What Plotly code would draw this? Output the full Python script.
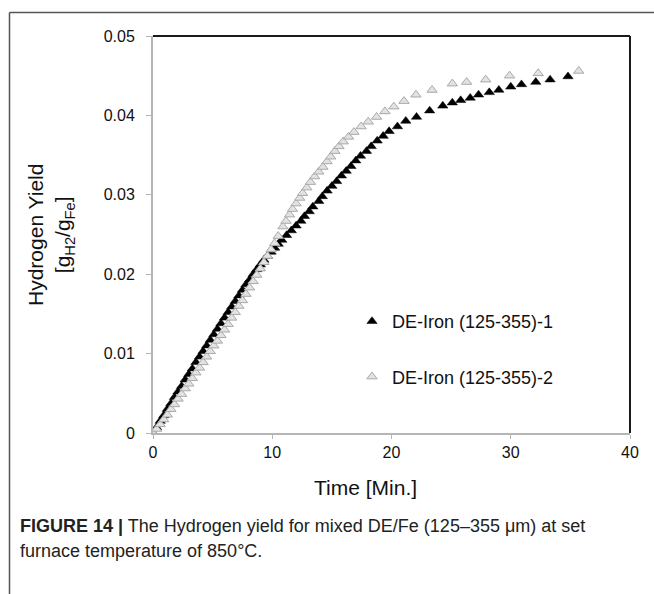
import plotly.graph_objects as go

# ---- data ----
t_run1 = [0, 0.3, 0.6, 0.9, 1.2, 1.5, 1.8, 2.1, 2.4, 2.7, 3.0, 3.3, 3.6, 3.9, 4.2, 4.5, 4.8,
          5.1, 5.4, 5.7, 6.0, 6.3, 6.6, 6.9, 7.2, 7.5, 7.8, 8.1, 8.4, 8.7, 9.0, 9.3, 9.6,
          9.9, 10.2, 10.5, 10.8, 11.2, 11.6, 12.0, 12.4, 12.7, 13.1, 13.4, 13.9, 14.2, 14.6,
          15.0, 15.4, 15.8, 16.2, 16.6, 17.0, 17.4, 17.9, 18.3, 18.8, 19.3, 19.8, 20.5,
          21.2, 22.1, 23.2, 24.3, 25.1, 25.8, 26.6, 27.3, 28.2, 29.0, 30.0, 30.9, 32.1,
          33.3, 34.8]
y_run1 = [0.0000, 0.0007, 0.0015, 0.0022, 0.0030, 0.0037, 0.0045, 0.0052, 0.0059, 0.0067,
          0.0074, 0.0081, 0.0089, 0.0096, 0.0103, 0.0110, 0.0117, 0.0124, 0.0131, 0.0138,
          0.0145, 0.0152, 0.0159, 0.0166, 0.0173, 0.0180, 0.0187, 0.0193, 0.0200, 0.0206,
          0.0212, 0.0218, 0.0223, 0.0228, 0.0233, 0.0238, 0.0243, 0.0249, 0.0255, 0.0261,
          0.0267, 0.0273, 0.0279, 0.0285, 0.0292, 0.0298, 0.0305, 0.0311, 0.0317, 0.0324,
          0.0330, 0.0336, 0.0343, 0.0349, 0.0355, 0.0361, 0.0368, 0.0374, 0.0380, 0.0386,
          0.0393, 0.0398, 0.0406, 0.0412, 0.0416, 0.0419, 0.0422, 0.0426, 0.0429, 0.0432,
          0.0436, 0.0439, 0.0442, 0.0445, 0.0449]

t_run2 = [0, 0.3, 0.6, 0.9, 1.2, 1.5, 1.8, 2.1, 2.4, 2.7, 3.0, 3.3, 3.6, 3.9, 4.2, 4.5, 4.8,
          5.1, 5.4, 5.7, 6.0, 6.3, 6.6, 6.9, 7.2, 7.5, 7.8, 8.1, 8.4, 8.7, 9.0, 9.3, 9.6,
          9.9, 10.2, 10.5, 10.9, 11.15, 11.45, 11.7, 12.0, 12.3, 12.55, 12.9, 13.2, 13.55,
          13.9, 14.25, 14.6, 14.9, 15.25, 15.6, 15.95, 16.4, 16.85, 17.45, 18.05, 18.75,
          19.45, 20.2, 21.05, 22.05, 23.4, 25.1, 26.3, 27.9, 29.9, 32.3, 35.7]
y_run2 = [0.0000, 0.0005, 0.0011, 0.0017, 0.0023, 0.0030, 0.0036, 0.0043, 0.0049, 0.0056,
          0.0062, 0.0069, 0.0076, 0.0082, 0.0089, 0.0096, 0.0103, 0.0110, 0.0116, 0.0123,
          0.0130, 0.0137, 0.0145, 0.0152, 0.0160, 0.0167, 0.0175, 0.0183, 0.0191, 0.0199,
          0.0207, 0.0215, 0.0223, 0.0231, 0.0239, 0.0248, 0.0260, 0.0267, 0.0275, 0.0282,
          0.0289, 0.0296, 0.0302, 0.0309, 0.0316, 0.0323, 0.0329, 0.0335, 0.0342, 0.0348,
          0.0355, 0.0361, 0.0367, 0.0373, 0.0379, 0.0386, 0.0392, 0.0398, 0.0405, 0.0411,
          0.0418, 0.0426, 0.0432, 0.0440, 0.0442, 0.0445, 0.0450, 0.0453, 0.0456]

series_names = ["DE-Iron (125-355)-1", "DE-Iron (125-355)-2"]
x_ticks = [0, 10, 20, 30, 40]
y_ticks = [0, 0.01, 0.02, 0.03, 0.04, 0.05]
y_tick_labels = ["0", "0.01", "0.02", "0.03", "0.04", "0.05"]

FONT = "Liberation Sans, Arial, sans-serif"

# plot area in page pixels (reference): x 153..630, y 36..433
L, R, T, B = 153, 630, 36, 433
W, H = 654, 594
PW, PH = R - L, B - T


def px(xp):
    return (xp - L) / PW


def py(yp):
    return (B - yp) / PH


fig = go.Figure()
fig.add_trace(go.Scatter(
    x=t_run1, y=y_run1, mode="markers", name=series_names[0], legendgroup="a",
    marker=dict(symbol="triangle-up", size=9, color="#000000",
                line=dict(color="#000000", width=0.5)),
))
fig.add_trace(go.Scatter(
    x=t_run2, y=y_run2, mode="markers", name=series_names[1], legendgroup="b",
    marker=dict(symbol="triangle-up", size=9, color="#e2e2e2",
                line=dict(color="#a9a9a9", width=1)),
))

fig.update_layout(
    width=W, height=H,
    margin=dict(l=L, r=W - R, t=T, b=H - B),
    paper_bgcolor="white", plot_bgcolor="white",
    font=dict(family=FONT, color="#111111"),
    showlegend=True,
    legend=dict(x=px(352), y=py(303), xanchor="left", yanchor="top",
                font=dict(size=18, family=FONT, color="#111111"),
                bgcolor="rgba(0,0,0,0)", tracegroupgap=29, traceorder="grouped",
                itemwidth=30),
    xaxis=dict(range=[0, 40], tickvals=x_ticks, showgrid=False, zeroline=False,
               showline=True, linecolor="#b5b5b5", linewidth=2,
               ticks="outside", ticklen=4, tickcolor="#b5b5b5",
               tickfont=dict(size=16, family=FONT, color="#111111")),
    yaxis=dict(range=[0, 0.05], tickvals=y_ticks, ticktext=y_tick_labels,
               showgrid=False, zeroline=False,
               showline=True, linecolor="#b5b5b5", linewidth=2,
               ticks="outside", ticklen=5, tickcolor="#b5b5b5",
               ticklabelstandoff=8,
               tickfont=dict(size=16, family=FONT, color="#111111")),
)

# black top and right borders of plot area
fig.add_shape(type="line", xref="paper", yref="paper", x0=0, x1=1, y0=1, y1=1,
              line=dict(color="#1a1a1a", width=2))
fig.add_shape(type="line", xref="paper", yref="paper", x0=1, x1=1, y0=0, y1=1,
              line=dict(color="#1a1a1a", width=2))

# outer page frame (left and top)
fig.add_shape(type="line", xref="paper", yref="paper", x0=px(9.5), x1=px(9.5),
              y0=py(600), y1=py(12.5), line=dict(color="#555555", width=1.5))
fig.add_shape(type="line", xref="paper", yref="paper", x0=px(9.5), x1=px(660),
              y0=py(12.5), y1=py(12.5), line=dict(color="#555555", width=1.5))

# y axis title (two lines)
fig.add_annotation(xref="paper", yref="paper", x=px(51), y=py(235),
                   text="Hydrogen Yield<br>[g<sub>H2</sub>/g<sub>Fe</sub>]",
                   textangle=-90, showarrow=False, xanchor="center", yanchor="middle",
                   font=dict(size=21, family=FONT, color="#111111"))

# x axis title
fig.add_annotation(xref="paper", yref="paper", x=px(365), y=py(487),
                   text="Time [Min.]", showarrow=False, xanchor="center", yanchor="middle",
                   font=dict(size=21, family=FONT, color="#111111"))

# figure caption
fig.add_annotation(xref="paper", yref="paper", x=px(18), y=py(526),
                   text="<b>FIGURE 14 |</b> The Hydrogen yield for mixed DE/Fe (125–355 μm) at set",
                   showarrow=False, xanchor="left", yanchor="middle",
                   font=dict(size=18, family=FONT, color="#222222"))
fig.add_annotation(xref="paper", yref="paper", x=px(18), y=py(551),
                   text="furnace temperature of 850°C.",
                   showarrow=False, xanchor="left", yanchor="middle",
                   font=dict(size=18, family=FONT, color="#222222"))

fig.write_html("out.html",
               config={"displayModeBar": False},
               post_script="document.body.style.margin='0';document.body.style.padding='0';")
